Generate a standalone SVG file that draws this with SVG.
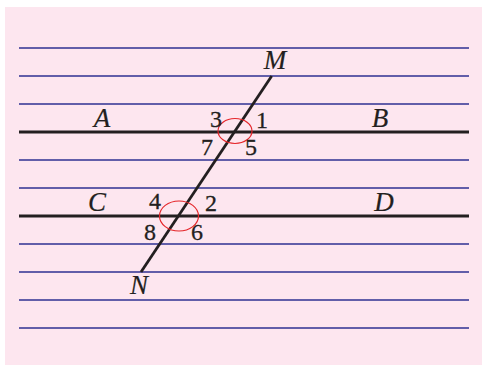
<svg xmlns="http://www.w3.org/2000/svg" width="482" height="365" viewBox="0 0 482 365">
<style>
.bg{fill:#fde6ef}
.rule{stroke:#2e3192;stroke-width:1.5}
.main{stroke:#231f20;stroke-width:2.8;fill:none}
.arc{stroke:#e5262a;stroke-width:1.2;fill:none}
.num{font-family:"Liberation Serif","Times New Roman",serif;font-size:24px;fill:#231f20;stroke:#231f20;stroke-width:0.3;text-anchor:middle}
.let{font-family:"Liberation Serif","Times New Roman",serif;font-style:italic;font-size:27px;fill:#231f20;stroke:#231f20;stroke-width:0.2;text-anchor:middle}
</style>
<rect x="0" y="0" width="482" height="365" fill="#ffffff"/>
<rect class="bg" x="5" y="7" width="477" height="358"/>
<g id="rules">
<line class="rule" x1="19" y1="48" x2="469" y2="48"/>
<line class="rule" x1="19" y1="76" x2="469" y2="76"/>
<line class="rule" x1="19" y1="104" x2="469" y2="104"/>
<line class="rule" x1="19" y1="160" x2="469" y2="160"/>
<line class="rule" x1="19" y1="188" x2="469" y2="188"/>
<line class="rule" x1="19" y1="244" x2="469" y2="244"/>
<line class="rule" x1="19" y1="272" x2="469" y2="272"/>
<line class="rule" x1="19" y1="300" x2="469" y2="300"/>
<line class="rule" x1="19" y1="328" x2="469" y2="328"/>
</g>
<g id="connectors">
<line id="AB" class="main" x1="19" y1="132" x2="469" y2="132"/>
<line id="CD" class="main" x1="19" y1="216" x2="469" y2="216"/>
<line id="MN" class="main" x1="271.7" y1="76" x2="141" y2="272"/>
</g>
<g id="angle-marks">
<ellipse class="arc" cx="235" cy="131" rx="17" ry="12.5"/>
<ellipse class="arc" cx="179" cy="216" rx="19.5" ry="15"/>
</g>
<g id="labels">
<text class="let" x="275" y="69">M</text>
<text class="let" x="139" y="294">N</text>
<text class="let" x="102" y="127">A</text>
<text class="let" x="380" y="127">B</text>
<text class="let" x="97" y="211">C</text>
<text class="let" x="384" y="211">D</text>
<text class="num" x="216" y="127">3</text>
<text class="num" x="262" y="128">1</text>
<text class="num" x="207" y="155">7</text>
<text class="num" x="251" y="155">5</text>
<text class="num" x="155" y="209">4</text>
<text class="num" x="211" y="211">2</text>
<text class="num" x="150" y="240">8</text>
<text class="num" x="197" y="240">6</text>
</g>
</svg>
